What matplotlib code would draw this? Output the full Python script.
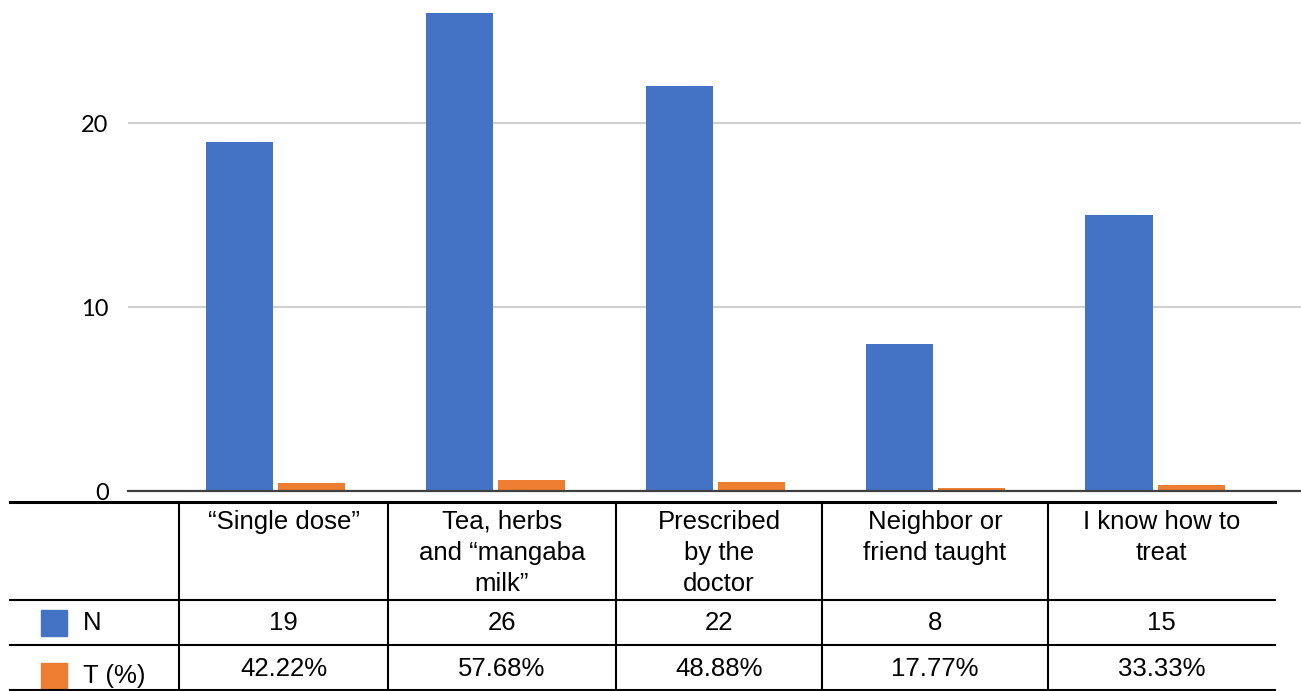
import matplotlib.pyplot as plt
import numpy as np

categories = ["\u201cSingle dose\u201d", "Tea, herbs\nand \u201cmangaba\nmilk\u201d",
              "Prescribed\nby the\ndoctor", "Neighbor or\nfriend taught", "I know how to\ntreat"]
n_values = [19, 26, 22, 8, 15]
t_values = [42.22, 57.68, 48.88, 17.77, 33.33]
t_labels = ["42.22%", "57.68%", "48.88%", "17.77%", "33.33%"]
series_names = ["N", "T (%)"]
yticks = [0, 10, 20]

BLUE = "#4472C4"
ORANGE = "#ED7D31"
W, H = 1301, 691

fig = plt.figure(figsize=(W / 100, H / 100), dpi=100)

# chart area (pixel layout)
ax = fig.add_axes([128 / W, (H - 491) / H, (W - 128) / W, 491 / H])
x = np.arange(len(categories))
bw = 0.305
ax.bar(x - 0.164, n_values, bw, color=BLUE, zorder=3)
ax.bar(x + 0.164, np.array(t_values) / 100, bw, color=ORANGE, zorder=3)
ax.set_xlim(-0.673, 4.664)
ax.set_ylim(0, 26.7)
ax.set_yticks(yticks)
ax.set_yticklabels([str(v) for v in yticks], fontsize=17, family="Lato")
ax.tick_params(axis="y", length=0, pad=14)
ax.set_xticks([])
ax.grid(axis="y", color="#d0d0d0", linewidth=1.5, zorder=0)
for s in ["top", "right", "left"]:
    ax.spines[s].set_visible(False)
ax.spines["bottom"].set_color("#404040")
ax.spines["bottom"].set_linewidth(1.6)
ax.spines["bottom"].set_zorder(4)

# data table drawn below, in pixel coordinates
tab = fig.add_axes([0, 0, 1, 1])
tab.set_xlim(0, W)
tab.set_ylim(H, 0)
tab.axis("off")

col_edges = [179, 388, 616, 822, 1048, 1275]
row_lines = [502, 600, 645, 690]
tab.plot([10, 1275], [row_lines[0]] * 2, color="black", lw=2.2)
for yy in row_lines[1:]:
    tab.plot([10, 1275], [yy, yy], color="black", lw=1.5)
for xx in col_edges[:-1]:
    tab.plot([xx, xx], [502, 691], color="black", lw=1.5)

font = dict(family="Liberation Sans", fontsize=18.5, color="black")
for i, cat in enumerate(categories):
    cx = (col_edges[i] + col_edges[i + 1]) / 2
    tab.text(cx, 510, cat, ha="center", va="top", linespacing=1.37, **font)
    tab.text(cx, 623, str(n_values[i]), ha="center", va="center", **font)
    tab.text(cx, 669, t_labels[i], ha="center", va="center", **font)

for name, color, cy in zip(series_names, [BLUE, ORANGE], [623, 676]):
    tab.add_patch(plt.Rectangle((41, cy - 13), 26, 26, color=color))
    tab.text(83, cy, name, ha="left", va="center", **font)

fig.savefig("out.png", dpi=100)
